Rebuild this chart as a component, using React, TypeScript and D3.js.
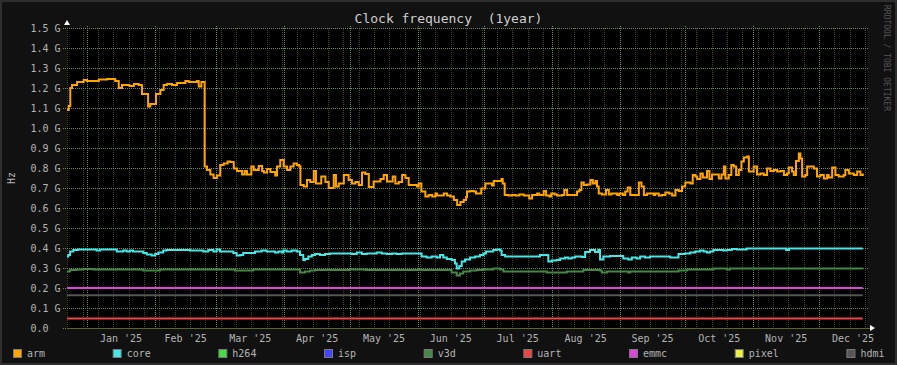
import React from 'react';
import * as d3 from 'd3';

// time axis: days counted from the left edge of the graph
const START = Date.UTC(2024, 11, 22, 21);
const SPAN_DAYS = 365;
const DAY = 86400000;

// [day, GHz] breakpoints (RRD step data)
const armSeries: [number, number][] = [
  [0, 1.09], [0.8, 1.11], [1.5, 1.2], [2.3, 1.215], [4.6, 1.23], [7.6, 1.24], [9.1, 1.235],
  [14.5, 1.243], [18.3, 1.245], [22.0, 1.235], [23.6, 1.2], [25.1, 1.215], [28.5, 1.21],
  [30.5, 1.22], [32.7, 1.215], [34.2, 1.17], [37.0, 1.107], [38.0, 1.12], [40.6, 1.17],
  [42.6, 1.19], [44.1, 1.215], [45.6, 1.22], [47.9, 1.215], [50.2, 1.225], [54.0, 1.235],
  [55.5, 1.23], [59.3, 1.235], [60.1, 1.207], [61.3, 1.23], [62.8, 0.807], [63.9, 0.79],
  [65.4, 0.768], [66.9, 0.75], [68.4, 0.763], [69.9, 0.815], [71.5, 0.823], [73.3, 0.832],
  [74.5, 0.83], [76.1, 0.798], [77.6, 0.785], [79.9, 0.768], [81.1, 0.785], [82.1, 0.768],
  [84.1, 0.807], [85.2, 0.79], [87.5, 0.81], [89.0, 0.785], [89.8, 0.777], [91.3, 0.795],
  [92.8, 0.78], [95.0, 0.762], [95.8, 0.807], [97.3, 0.84], [98.9, 0.807], [100.4, 0.79],
  [101.9, 0.807], [103.4, 0.823], [104.9, 0.815], [106.0, 0.807], [106.5, 0.715],
  [108.0, 0.707], [109.5, 0.74], [111.0, 0.73], [112.6, 0.785], [113.6, 0.723],
  [116.0, 0.757], [117.9, 0.73], [119.4, 0.7], [121.7, 0.765], [122.7, 0.707],
  [124.0, 0.723], [126.3, 0.765], [128.5, 0.74], [130.0, 0.723], [131.6, 0.73],
  [133.1, 0.715], [134.6, 0.777], [136.1, 0.77], [137.7, 0.705], [139.9, 0.732],
  [143.0, 0.745], [144.5, 0.765], [146.0, 0.732], [148.6, 0.757], [149.8, 0.723],
  [151.4, 0.73], [152.9, 0.765], [154.4, 0.75], [155.9, 0.715], [159.7, 0.707],
  [160.5, 0.723], [161.7, 0.682], [163.5, 0.657], [165.0, 0.665], [166.6, 0.657],
  [168.1, 0.673], [168.8, 0.662], [171.9, 0.673], [173.4, 0.662], [174.9, 0.657],
  [176.5, 0.64], [178.0, 0.615], [179.5, 0.63], [181.0, 0.64], [182.1, 0.655],
  [182.5, 0.682], [184.0, 0.685], [185.6, 0.682], [186.6, 0.673], [189.0, 0.698],
  [190.9, 0.723], [193.9, 0.712], [194.7, 0.735], [198.2, 0.745], [198.8, 0.723],
  [199.7, 0.665], [201.5, 0.662], [203.1, 0.665], [204.6, 0.662], [206.4, 0.668],
  [208.4, 0.662], [210.9, 0.648], [212.2, 0.665], [214.5, 0.673], [215.5, 0.665],
  [217.5, 0.685], [218.6, 0.662], [220.1, 0.657], [221.0, 0.673], [222.5, 0.668],
  [223.6, 0.662], [225.9, 0.665], [226.9, 0.69], [228.2, 0.665], [232.7, 0.682],
  [233.8, 0.69], [234.7, 0.728], [235.8, 0.715], [237.3, 0.718], [238.8, 0.74],
  [239.9, 0.723], [241.1, 0.735], [241.8, 0.707], [242.6, 0.673], [244.1, 0.668],
  [245.9, 0.69], [247.2, 0.668], [248.4, 0.673], [251.0, 0.665], [252.0, 0.673],
  [253.6, 0.665], [254.7, 0.682], [255.8, 0.702], [257.0, 0.665], [260.9, 0.728],
  [262.1, 0.707], [263.2, 0.665], [264.7, 0.673], [267.7, 0.665], [268.4, 0.673],
  [270.0, 0.662], [271.5, 0.665], [273.0, 0.677], [274.6, 0.673], [276.1, 0.662],
  [277.6, 0.69], [279.1, 0.685], [280.6, 0.707], [282.1, 0.728], [284.4, 0.723],
  [285.5, 0.765], [286.7, 0.757], [287.5, 0.745], [289.0, 0.773], [290.1, 0.752],
  [292.0, 0.785], [293.1, 0.745], [294.3, 0.768], [297.4, 0.748], [298.6, 0.768],
  [299.7, 0.807], [300.4, 0.748], [301.9, 0.765], [303.1, 0.815], [304.2, 0.807],
  [305.3, 0.765], [306.5, 0.79], [307.7, 0.832], [308.8, 0.852], [310.3, 0.857],
  [311.1, 0.782], [313.3, 0.807], [314.8, 0.768], [316.4, 0.773], [317.9, 0.765],
  [319.4, 0.798], [320.9, 0.785], [322.5, 0.79], [324.0, 0.782], [325.5, 0.785],
  [327.1, 0.765], [328.5, 0.773], [329.3, 0.802], [330.8, 0.782], [331.6, 0.765],
  [332.6, 0.835], [333.9, 0.873], [334.6, 0.848], [335.4, 0.757], [336.9, 0.765],
  [337.7, 0.807], [340.7, 0.798], [342.2, 0.757], [343.7, 0.765], [345.3, 0.748],
  [346.8, 0.765], [347.5, 0.752], [349.1, 0.802], [350.6, 0.765], [352.1, 0.757],
  [354.4, 0.765], [355.1, 0.79], [356.7, 0.773], [359.0, 0.765], [360.5, 0.782],
  [362.0, 0.765], [363.1, 0.773],
];

const coreSeries: [number, number][] = [
  [0, 0.357], [0.6, 0.365], [1.4, 0.382], [2.9, 0.39], [5.0, 0.393], [13.5, 0.387],
  [15.1, 0.393], [22.7, 0.383], [25.7, 0.387], [27.2, 0.383], [28.7, 0.387], [30.1, 0.383],
  [34.8, 0.375], [36.4, 0.367], [38.6, 0.362], [40.2, 0.37], [41.7, 0.377], [43.9, 0.387],
  [45.5, 0.39], [56.1, 0.387], [62.2, 0.383], [64.5, 0.39], [66.8, 0.383], [68.3, 0.393],
  [69.8, 0.383], [75.9, 0.375], [77.4, 0.362], [78.9, 0.365], [80.4, 0.375], [85.8, 0.383],
  [88.8, 0.387], [91.1, 0.383], [94.9, 0.378], [96.4, 0.383], [98.0, 0.378], [98.7, 0.387],
  [100.2, 0.383], [102.5, 0.387], [104.8, 0.383], [106.3, 0.365], [107.8, 0.34],
  [108.6, 0.345], [110.1, 0.357], [111.7, 0.365], [113.2, 0.37], [115.4, 0.365],
  [117.7, 0.37], [120.0, 0.373], [129.9, 0.37], [132.2, 0.377], [134.5, 0.37],
  [136.8, 0.373], [141.3, 0.377], [143.6, 0.373], [145.9, 0.37], [148.2, 0.373],
  [150.4, 0.37], [152.7, 0.373], [161.8, 0.357], [164.1, 0.353], [166.4, 0.357],
  [168.7, 0.353], [170.2, 0.365], [171.7, 0.353], [173.3, 0.345], [175.5, 0.34],
  [177.0, 0.323], [177.8, 0.298], [179.0, 0.31], [180.1, 0.332], [181.6, 0.343],
  [183.9, 0.353], [186.2, 0.357], [188.4, 0.365], [190.0, 0.373], [191.2, 0.382],
  [194.5, 0.39], [196.1, 0.393], [197.6, 0.387], [198.3, 0.365], [199.9, 0.357],
  [215.8, 0.365], [219.6, 0.332], [221.2, 0.337], [223.4, 0.34], [225.0, 0.348],
  [227.2, 0.353], [228.7, 0.348], [230.3, 0.353], [231.8, 0.357], [234.9, 0.355],
  [236.4, 0.38], [238.6, 0.39], [240.9, 0.38], [242.4, 0.39], [243.2, 0.343],
  [244.7, 0.357], [247.8, 0.36], [253.8, 0.348], [256.1, 0.343], [257.7, 0.353],
  [259.9, 0.348], [261.5, 0.357], [263.7, 0.353], [266.0, 0.357], [275.2, 0.353],
  [279.0, 0.37], [282.0, 0.373], [284.3, 0.377], [286.6, 0.383], [288.8, 0.387],
  [290.4, 0.383], [291.9, 0.377], [293.4, 0.383], [294.9, 0.39], [299.5, 0.387],
  [301.0, 0.39], [303.3, 0.395], [305.6, 0.393], [310.1, 0.398], [328.1, 0.39],
  [329.4, 0.398], [363.1, 0.398],
];

const v3dSeries: [number, number][] = [
  [0, 0.282], [1.4, 0.29], [4.4, 0.293], [7.4, 0.295], [12.0, 0.293], [34.8, 0.287],
  [42.4, 0.293], [76.7, 0.287], [84.9, 0.293], [106.3, 0.277], [108.6, 0.282],
  [110.9, 0.287], [113.2, 0.29], [129.1, 0.293], [136.4, 0.29], [175.5, 0.278],
  [177.8, 0.262], [179.3, 0.273], [180.8, 0.282], [183.9, 0.287], [186.9, 0.29],
  [190.0, 0.293], [194.5, 0.297], [197.6, 0.293], [199.1, 0.282], [218.9, 0.277],
  [228.0, 0.282], [235.6, 0.29], [243.2, 0.287], [244.0, 0.277], [246.3, 0.282],
  [256.1, 0.277], [256.9, 0.282], [279.0, 0.287], [282.8, 0.293], [294.9, 0.297],
  [301.0, 0.293], [302.5, 0.297], [363.1, 0.297],
];

const uartSeries: [number, number][] = [[0, 0.048], [363.1, 0.048]];
const emmcSeries: [number, number][] = [[0, 0.2], [363.1, 0.2]];
const hdmiSeries: [number, number][] = [[0, 0.1637], [363.1, 0.1637]];

const yTicks = [0, 0.1, 0.2, 0.3, 0.4, 0.5, 0.6, 0.7, 0.8, 0.9, 1.0, 1.1, 1.2, 1.3, 1.4, 1.5];

const legendNames = ['arm', 'core', 'h264', 'isp', 'v3d', 'uart', 'emmc', 'pixel', 'hdmi'];
const legendColors = ['#ffa500', '#44e8e8', '#44dd44', '#4444ff', '#448844', '#ee4444', '#dd44dd', '#eeee44', '#555555'];

const W = 897;
const H = 365;
const FONT = '"DejaVu Sans Mono", monospace';

export default function App() {
  const left = 67, right = 867, top = 28, bottom = 328;

  const x = d3.scaleUtc()
    .domain([new Date(START), new Date(START + SPAN_DAYS * DAY)])
    .range([left, right]);
  const y = d3.scaleLinear().domain([0, 1.5]).range([bottom, top]);

  const line = d3.line<[number, number]>()
    .x(d => x(new Date(START + d[0] * DAY)))
    .y(d => y(d[1]))
    .curve(d3.curveStepAfter);

  const [d0, d1] = x.domain();
  const weeks = d3.utcMonday.range(d0, d1);
  const months = d3.utcMonth.range(d0, d1);
  const monthLabels = d3.utcMonth.range(d3.utcMonth.floor(d0), d1)
    .map(m => {
      const mid = (x(m) + x(d3.utcMonth.offset(m, 1))) / 2;
      return { m, mid };
    })
    .filter(o => o.mid > left && o.mid < right + 10);
  const fmtMonth = d3.utcFormat("%b '%y");

  const series: { data: [number, number][]; color: string }[] = [
    { data: hdmiSeries, color: legendColors[8] },
    { data: emmcSeries, color: legendColors[6] },
    { data: uartSeries, color: legendColors[5] },
    { data: v3dSeries, color: legendColors[4] },
    { data: coreSeries, color: legendColors[1] },
    { data: armSeries, color: legendColors[0] },
  ];

  // justified legend: equal gaps between entries
  const legendX: number[] = [];
  let lx = 13;
  legendNames.forEach(n => {
    legendX.push(lx);
    lx += 81.6 + 6.02 * n.length;
  });

  const gridH = '#6a8f62';
  const gridMinor = '#46461c';

  return (
    <svg width={W} height={H} style={{ position: 'absolute', left: 0, top: 0, display: 'block' }}
      fontFamily={FONT}>
      <rect x={0} y={0} width={W} height={H} fill="#2e2e2e" />
      <rect x={2} y={2} width={W - 4} height={H - 4} fill="#111111" />
      <rect x={left} y={top} width={right - left} height={bottom - top} fill="#000000" />

      {/* minor vertical grid (weeks) */}
      {weeks.map((w, i) => (
        <line key={'w' + i} x1={Math.round(x(w)) + 0.5} x2={Math.round(x(w)) + 0.5} y1={top} y2={bottom + 2}
          stroke={gridMinor} strokeDasharray="1,1" shapeRendering="crispEdges" />
      ))}
      {/* major vertical grid (months) */}
      {months.map((m, i) => (
        <line key={'m' + i} x1={Math.round(x(m)) + 0.5} x2={Math.round(x(m)) + 0.5} y1={top - 2} y2={bottom + 2}
          stroke={gridH} strokeDasharray="1,1" shapeRendering="crispEdges" />
      ))}
      {/* horizontal grid */}
      {yTicks.map((t, i) => (
        <line key={'h' + i} x1={left - 4} x2={right + 1} y1={Math.round(y(t)) + 0.5} y2={Math.round(y(t)) + 0.5}
          stroke={gridH} strokeDasharray="1,1" shapeRendering="crispEdges" />
      ))}

      {/* x axis */}
      <line x1={left} x2={right + 3} y1={bottom + 0.5} y2={bottom + 0.5} stroke="#56662c" shapeRendering="crispEdges" />

      {series.map((s, i) => (
        <path key={'s' + i} d={line(s.data) || ''} fill="none" stroke={s.color} strokeWidth={2} />
      ))}

      {/* axis arrows */}
      <path d={`M${left - 3},${top - 3} L${left + 3},${top - 3} L${left},${top - 8} Z`} fill="#ffffff" />
      <path d={`M${right + 3},${bottom - 3} L${right + 3},${bottom + 3} L${right + 8},${bottom} Z`} fill="#ffffff" />

      {/* y tick labels */}
      {yTicks.map((t, i) => (
        <text key={'yl' + i} x={30.5} y={y(t) + 3.6} fontSize={10} fill="#b4b4b4">
          {t === 0 ? '0.0' : d3.format('.1f')(t) + ' G'}
        </text>
      ))}

      {/* x labels */}
      {monthLabels.map((o, i) => (
        <text key={'xl' + i} x={o.mid} y={341.5} fontSize={10} fill="#b4b4b4" textAnchor="middle">
          {fmtMonth(o.m)}
        </text>
      ))}

      <text x={W / 2} y={23} fontSize={13} fill="#cfcfcf" textAnchor="middle" style={{ whiteSpace: 'pre' }}>
        {'Clock frequency  (1year)'}
      </text>

      <text transform={`translate(14.5, ${(top + bottom) / 2}) rotate(-90)`} fontSize={10} fill="#b4b4b4" textAnchor="middle">
        Hz
      </text>

      <text transform="translate(884, 5) rotate(90)" fontSize={8} fill="#555555">
        RRDTOOL / TOBI OETIKER
      </text>

      {/* legend */}
      {legendNames.map((n, i) => (
        <g key={'lg' + i}>
          <rect x={legendX[i] + 0.5} y={349.5} width={8} height={8} fill={legendColors[i]} stroke="#7a7a7a" strokeWidth={1} />
          <text x={legendX[i] + 14} y={357} fontSize={10} fill="#b4b4b4">{n}</text>
        </g>
      ))}
    </svg>
  );
}
